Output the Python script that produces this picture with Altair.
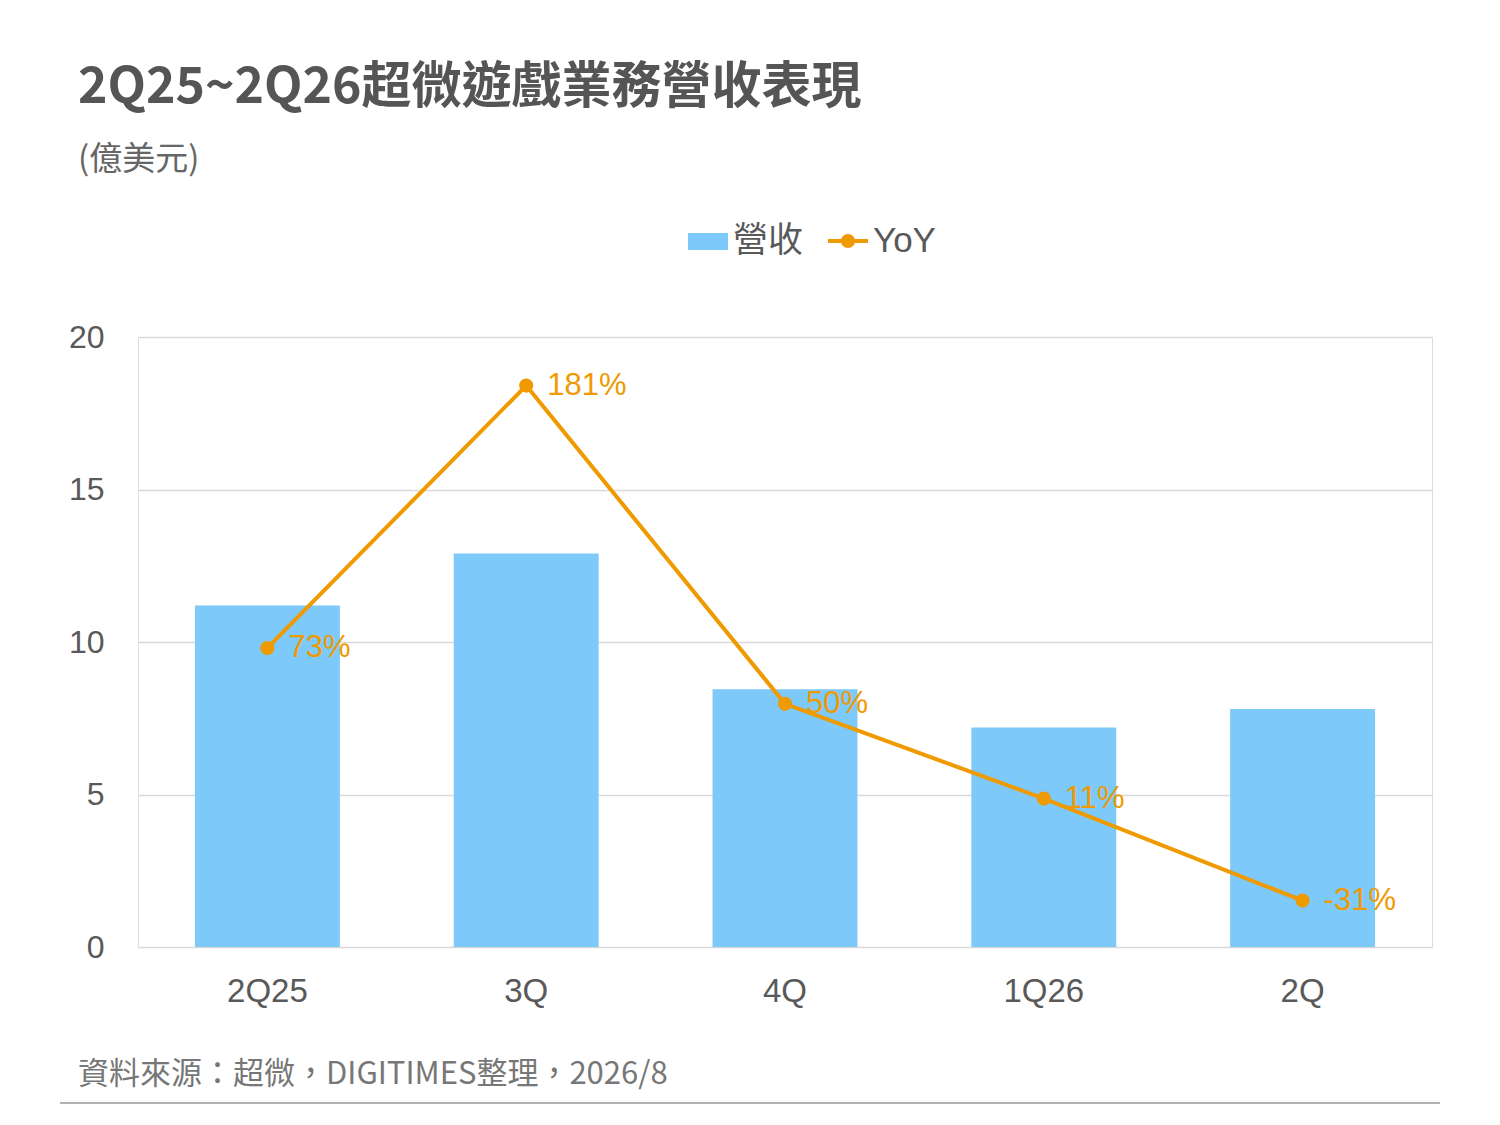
import pandas as pd
import altair as alt

quarters = ["2Q25", "3Q", "4Q", "1Q26", "2Q"]
revenue = [11.2, 12.9, 8.45, 7.2, 7.8]
yoy = [73, 181, 50, 11, -31]
yoy_labels = ["73%", "181%", "50%", "11%", "-31%"]

df = pd.DataFrame({"q": quarters, "rev": revenue, "yoy": yoy, "lab": yoy_labels})

CJK = "Noto Sans CJK TC"
NUM = "Liberation Sans"
ORANGE = "#EE9A00"
BLUE = "#7DC9F9"
GRAY = "#595959"

x = alt.X("q:N", sort=quarters, title=None,
          scale=alt.Scale(paddingInner=0.44, paddingOuter=0.22),
          axis=alt.Axis(labelAngle=0, labelFontSize=33, labelColor=GRAY, labelFont=NUM,
                        labelPadding=28, ticks=False, domain=False))

bars = alt.Chart(df).mark_bar(color=BLUE).encode(
    x=x,
    y=alt.Y("rev:Q", title=None, scale=alt.Scale(domain=[0, 20]),
            axis=alt.Axis(values=[0, 5, 10, 15, 20], labelFontSize=32, labelColor=GRAY,
                          labelFont=NUM, labelPadding=34, ticks=False, domain=False,
                          gridColor="#d9d9d9", gridWidth=1.5)),
)

yy = alt.Y("yoy:Q", scale=alt.Scale(domain=[-50.1, 201]), axis=None)
line = alt.Chart(df).mark_line(color=ORANGE, strokeWidth=4).encode(x=x, y=yy)
dots = alt.Chart(df).mark_circle(color=ORANGE, size=200, opacity=1).encode(x=x, y=yy)
labs = alt.Chart(df).mark_text(color=ORANGE, fontSize=31, font=NUM, align="left", dx=21).encode(
    x=x, y=yy, text="lab:N")

yoy_layer = alt.layer(line, dots, labs)

def txt(s, px, py, size, color, weight="normal", font=CJK, align="left"):
    return alt.Chart(pd.DataFrame({"t": [s]})).mark_text(
        fontSize=size, color=color, fontWeight=weight, font=font, align=align, baseline="middle"
    ).encode(x=alt.value(px), y=alt.value(py), text="t:N")

title = txt("2Q25~2Q26超微遊戲業務營收表現", -60, -249, 50, "#555555", weight="bold")
sub = txt("(億美元)", -60, -177, 33, "#666666")
leg_rev = txt("營收", 595, -96, 35, GRAY)
leg_yoy = txt("YoY", 735, -96, 35, GRAY, font=NUM)
footer = txt("資料來源：超微，DIGITIMES整理，2026/8", -60, 738, 31, "#777777")

leg_rect = alt.Chart(pd.DataFrame({"a": [0]})).mark_rect(color=BLUE).encode(
    x=alt.value(550), x2=alt.value(590), y=alt.value(-104), y2=alt.value(-87))
leg_line = alt.Chart(pd.DataFrame({"a": [0]})).mark_rule(color=ORANGE, strokeWidth=4).encode(
    x=alt.value(690), x2=alt.value(730), y=alt.value(-96))
leg_dot = alt.Chart(pd.DataFrame({"a": [0]})).mark_circle(color=ORANGE, size=200, opacity=1).encode(
    x=alt.value(710), y=alt.value(-96))
bottom_rule = alt.Chart(pd.DataFrame({"a": [0]})).mark_rule(color="#999999", strokeWidth=1.5).encode(
    x=alt.value(-78), x2=alt.value(1302), y=alt.value(766))

chart = alt.layer(
    bars, yoy_layer, title, sub, leg_rect, leg_rev, leg_line, leg_dot, leg_yoy, footer, bottom_rule
).resolve_scale(y="independent").properties(
    width=1294, height=610,
    autosize=alt.AutoSizeParams(type="none"),
    padding={"left": 130, "top": 329, "right": 60, "bottom": 170},
).configure_view(stroke="transparent", strokeWidth=0).configure(background="white")

chart.save("out.html", embed_options={"renderer": "svg", "actions": False})
